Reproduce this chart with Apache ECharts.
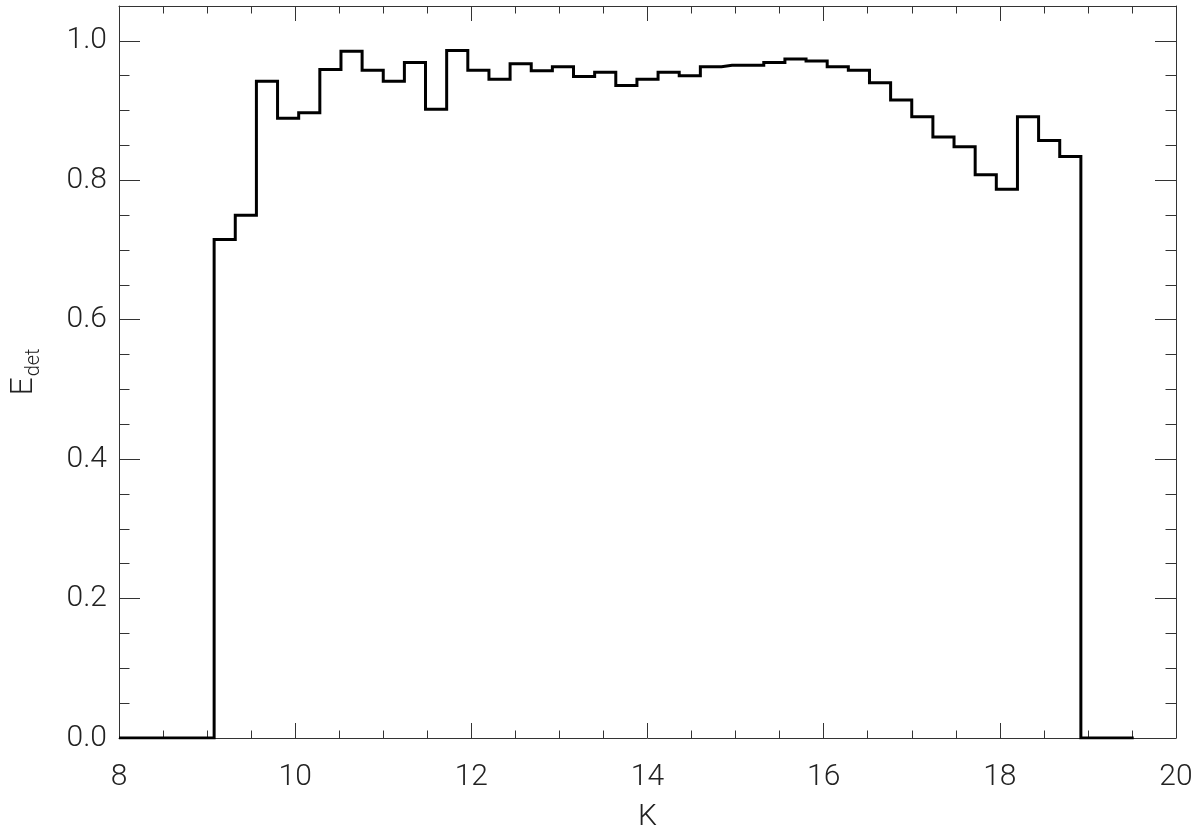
<!DOCTYPE html>
<html>
<head>
<meta charset="utf-8">
<script src="https://cdn.jsdelivr.net/npm/echarts@6/dist/echarts.min.js"></script>
<style>
html,body{margin:0;padding:0;background:#fff;}
#chart{width:1200px;height:831px;}
</style>
</head>
<body>
<div id="chart"></div>
<script>
// Bin centres (K magnitude) and detection efficiency values
const binCenters = [8.00, 8.24, 8.48, 8.72, 8.96, 9.20, 9.44, 9.68, 9.92, 10.16,
  10.40, 10.64, 10.88, 11.12, 11.36, 11.60, 11.84, 12.08, 12.32, 12.56,
  12.80, 13.04, 13.28, 13.52, 13.76, 14.00, 14.24, 14.48, 14.72, 14.96,
  15.20, 15.44, 15.68, 15.92, 16.16, 16.40, 16.64, 16.88, 17.12, 17.36,
  17.60, 17.84, 18.08, 18.32, 18.56, 18.80, 19.04, 19.28, 19.52];
const efficiency = [0, 0, 0, 0, 0, 0.715, 0.750, 0.942, 0.889, 0.897,
  0.959, 0.985, 0.958, 0.942, 0.969, 0.902, 0.986, 0.958, 0.945, 0.967,
  0.957, 0.963, 0.949, 0.955, 0.936, 0.945, 0.955, 0.950, 0.963, 0.965,
  0.965, 0.969, 0.974, 0.971, 0.963, 0.958, 0.940, 0.915, 0.891, 0.862,
  0.848, 0.808, 0.787, 0.891, 0.857, 0.834, 0, 0, 0];
const xTicks = [8, 10, 12, 14, 16, 18, 20];
const yTicks = [0.0, 0.2, 0.4, 0.6, 0.8, 1.0];

const FONT = 'Roboto';
const AX = '#333';
const xMin = xTicks[0], xMax = xTicks[xTicks.length - 1];
const yMin = 0, yMax = 1.05;

const chart = echarts.init(document.getElementById('chart'), null, {renderer: 'canvas'});

function xAxisDef(pos, showLabel) {
  return {
    type: 'value', position: pos, min: xMin, max: xMax, interval: 2,
    axisLine: {show: true, onZero: false, lineStyle: {color: AX, width: 1}},
    axisTick: {show: true, inside: true, length: 15, lineStyle: {color: AX, width: 1}},
    minorTick: {show: true, splitNumber: 4, length: 7.5, lineStyle: {color: AX, width: 1}},
    splitLine: {show: false},
    axisLabel: {show: showLabel, fontFamily: FONT, fontWeight: 300, fontSize: 30, color: '#222', margin: 24,
      formatter: v => String(Math.round(v))},
    name: showLabel ? 'K' : '',
    nameLocation: 'middle', nameGap: 66,
    nameTextStyle: {fontFamily: FONT, fontWeight: 300, fontSize: 30, lineHeight: 26, color: '#222'}
  };
}
function yMajor(pos, showLabel) {
  return {
    type: 'value', position: pos, min: yMin, max: yMax, interval: 0.2,
    axisLine: {show: true, onZero: false, lineStyle: {color: AX, width: 1}},
    axisTick: {show: true, inside: true, length: 21, lineStyle: {color: AX, width: 1}},
    splitLine: {show: false},
    axisLabel: {show: showLabel, fontFamily: FONT, fontWeight: 300, fontSize: 30, color: '#222', margin: 12,
      formatter: function (v) {
        const hit = yTicks.find(t => Math.abs(t - v) < 1e-6);
        return hit === undefined ? '' : hit.toFixed(1);
      }},
    name: showLabel ? '{e|E}{s|det}' : '',
    nameLocation: 'middle', nameGap: 79, nameRotate: 90,
    nameTextStyle: {
      rich: {
        e: {fontFamily: FONT, fontWeight: 300, fontSize: 32, lineHeight: 32, color: '#222', verticalAlign: 'top'},
        s: {fontFamily: FONT, fontWeight: 300, fontSize: 20, lineHeight: 20, color: '#222', verticalAlign: 'top', padding: [16, 0, 0, 1]}
      }
    }
  };
}
function yMinor(pos) {
  return {
    type: 'value', position: pos, min: yMin, max: yMax, interval: 0.05,
    axisLine: {show: false},
    axisTick: {show: true, inside: true, length: 10.5, lineStyle: {color: AX, width: 1}},
    splitLine: {show: false},
    axisLabel: {show: false}
  };
}

const data = binCenters.map((x, i) => [x, efficiency[i]]);

chart.setOption({
  backgroundColor: '#fff',
  animation: false,
  grid: {left: 119, top: 6, width: 1057, height: 732, containLabel: false, outerBoundsMode: 'none'},
  xAxis: [xAxisDef('bottom', true), xAxisDef('top', false)],
  yAxis: [yMajor('left', true), yMajor('right', false), yMinor('left'), yMinor('right')],
  series: [{
    type: 'line', xAxisIndex: 0, yAxisIndex: 0,
    step: 'middle', showSymbol: false, symbol: 'none',
    lineStyle: {color: '#000', width: 3, join: 'miter', cap: 'butt'},
    data: data
  }]
});
</script>
</body>
</html>
